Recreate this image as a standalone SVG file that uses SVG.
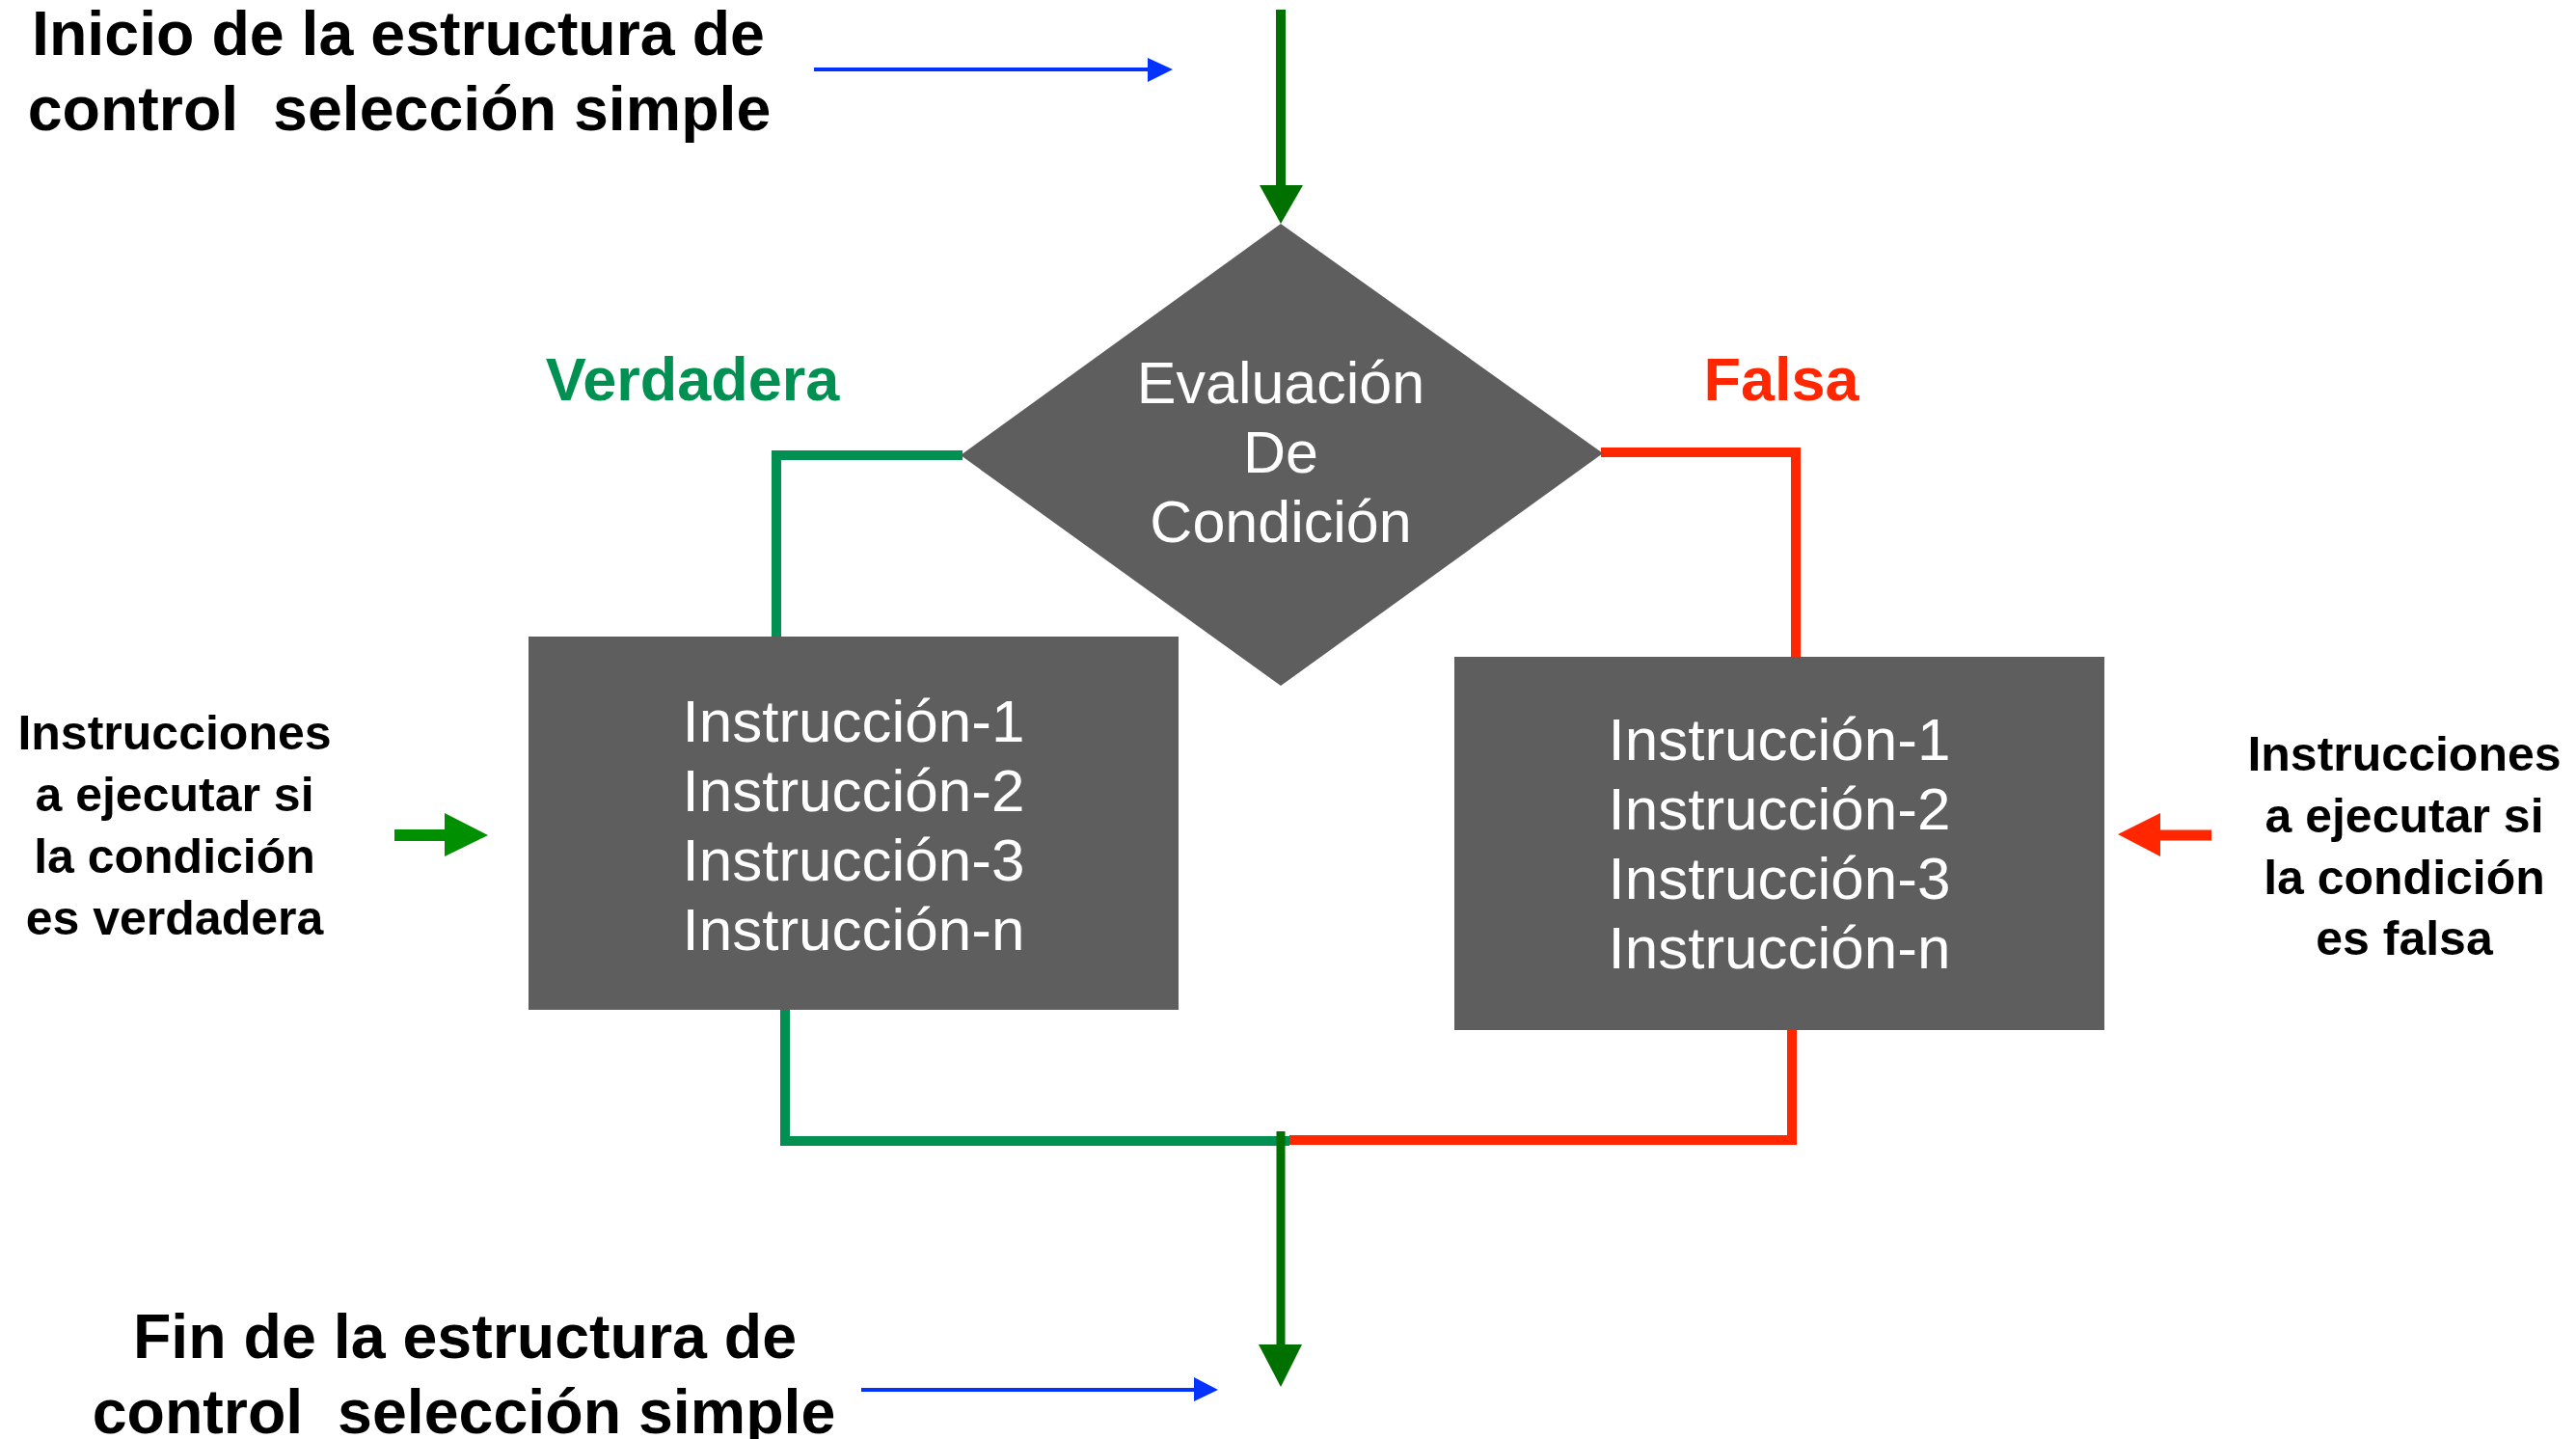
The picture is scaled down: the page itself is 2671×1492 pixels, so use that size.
<svg xmlns="http://www.w3.org/2000/svg" width="2671" height="1492" viewBox="0 0 2671 1492">
<style>
.shape{fill:#5E5E5E}
.wt{fill:#FFFFFF;font-family:"Liberation Sans",Arial,sans-serif;font-size:62px;text-anchor:middle}
.dt{font-size:61px}
.bt{fill:#000000;font-family:"Liberation Sans",Arial,sans-serif;font-weight:bold;text-anchor:middle}
.title{font-size:64.5px}
.side{font-size:50px}
.lbl{font-family:"Liberation Sans",Arial,sans-serif;font-weight:bold;font-size:63px;text-anchor:middle}
.ln{fill:none;stroke-width:10;stroke-linecap:butt;stroke-linejoin:miter}
</style>
<rect width="2671" height="1492" fill="#FFFFFF"/>

<g id="title-start">
<text class="bt title" x="413" y="57">Inicio de la estructura de</text>
<text class="bt title" x="414" y="135">control&#160; selección simple</text>
</g>

<g id="title-end">
<text class="bt title" x="482" y="1408">Fin de la estructura de</text>
<text class="bt title" x="481" y="1486">control&#160; selección simple</text>
</g>

<g id="label-true">
<text class="lbl" x="718" y="415" fill="#009051">Verdadera</text>
</g>
<g id="label-false">
<text class="lbl" x="1847" y="415" fill="#FF2600">Falsa</text>
</g>

<g id="note-true">
<text class="bt side" x="181" y="777">Instrucciones</text>
<text class="bt side" x="181" y="841">a ejecutar si</text>
<text class="bt side" x="181" y="905">la condición</text>
<text class="bt side" x="181" y="969">es verdadera</text>
</g>

<g id="note-false">
<text class="bt side" x="2493" y="799">Instrucciones</text>
<text class="bt side" x="2493" y="863">a ejecutar si</text>
<text class="bt side" x="2493" y="927">la condición</text>
<text class="bt side" x="2493" y="990">es falsa</text>
</g>

<g id="connectors">
<polyline class="ln" stroke="#009051" points="998,472 805,472 805,660"/>
<polyline class="ln" stroke="#FF2600" points="1660,469 1862,469 1862,681"/>
<polyline class="ln" stroke="#009051" points="814,1047 814,1183 1337,1183"/>
<polyline class="ln" stroke="#FF2600" points="1858,1068 1858,1182 1337,1182"/>
<line x1="1328" y1="10" x2="1328" y2="194" stroke="#007000" stroke-width="10"/>
<polygon points="1306,192 1351,192 1328,232" fill="#007000"/>
<line x1="1328" y1="1173" x2="1328" y2="1396" stroke="#007000" stroke-width="9"/>
<polygon points="1305,1394 1350,1394 1328,1438" fill="#007000"/>
<line x1="844" y1="72" x2="1192" y2="72" stroke="#0433FF" stroke-width="4"/>
<polygon points="1190,60 1216,72 1190,85" fill="#0433FF"/>
<line x1="893" y1="1441" x2="1240" y2="1441" stroke="#0433FF" stroke-width="4"/>
<polygon points="1238,1428 1263,1441 1238,1453" fill="#0433FF"/>
<line x1="409" y1="866" x2="463" y2="866" stroke="#008F00" stroke-width="12"/>
<polygon points="461,843 506,866 461,888" fill="#008F00"/>
<line x1="2293" y1="866" x2="2238" y2="866" stroke="#FF2600" stroke-width="11"/>
<polygon points="2240,843 2196,865 2240,888" fill="#FF2600"/>
</g>

<g id="decision">
<polygon class="shape" points="1328,232 1662,470 1328,711 996,472"/>
<text class="wt dt" x="1328" y="418">Evaluación</text>
<text class="wt dt" x="1328" y="490">De</text>
<text class="wt dt" x="1328" y="562">Condición</text>
</g>

<g id="block-true">
<rect class="shape" x="548" y="660" width="674" height="387"/>
<text class="wt" x="885" y="769">Instrucción-1</text>
<text class="wt" x="885" y="841">Instrucción-2</text>
<text class="wt" x="885" y="913">Instrucción-3</text>
<text class="wt" x="885" y="985">Instrucción-n</text>
</g>

<g id="block-false">
<rect class="shape" x="1508" y="681" width="674" height="387"/>
<text class="wt" x="1845" y="788">Instrucción-1</text>
<text class="wt" x="1845" y="860">Instrucción-2</text>
<text class="wt" x="1845" y="932">Instrucción-3</text>
<text class="wt" x="1845" y="1004">Instrucción-n</text>
</g>
</svg>
